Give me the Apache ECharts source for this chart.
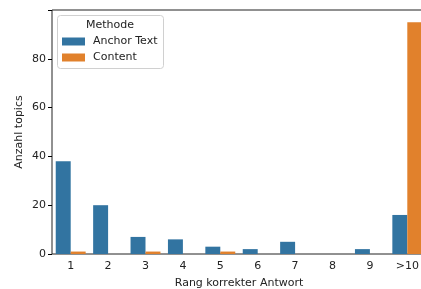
<!DOCTYPE html>
<html>
<head>
<meta charset="utf-8">
<script src="https://cdn.jsdelivr.net/npm/echarts@6/dist/echarts.min.js"></script>
<style>
  html, body { margin: 0; padding: 0; background: #fff; }
  #chart { width: 421px; height: 289px; }
</style>
</head>
<body>
<div id="chart"></div>
<script>
// Rang-Kategorien
var categories = ['1', '2', '3', '4', '5', '6', '7', '8', '9', '>10'];
// Anzahl topics je Methode
var anchorText = [38, 20, 7, 6, 3, 2, 5, 0, 2, 16];
var content = [1, 0, 1, 0, 1, 0, 0, 0, 0, 95];
var yTicks = [0, 20, 40, 60, 80];

var font = 'DejaVu Sans';
var myChart = echarts.init(document.getElementById('chart'));
myChart.setOption({
    animation: false,
    textStyle: { fontFamily: font },
    color: ['#3274A1', '#E1812C'],
    grid: {
        left: 52,
        width: 374,
        top: 10,
        height: 244,
        outerBoundsMode: 'none',
        show: true,
        borderColor: '#222',
        borderWidth: 1,
        backgroundColor: 'transparent'
    },
    graphic: [
        {
            type: 'rect',
            left: 57,
            top: 15,
            shape: { width: 106, height: 53, r: 3 },
            style: { fill: 'rgba(255,255,255,0.8)', stroke: '#d0d0d0', lineWidth: 1 },
            z: 10
        },
        {
            type: 'text',
            left: 86,
            top: 20,
            style: { text: 'Methode', fontFamily: font, fontSize: 11, fill: '#222' },
            z: 11
        }
    ],
    legend: {
        orient: 'vertical',
        left: 57,
        top: 31,
        itemWidth: 23,
        itemHeight: 8,
        itemGap: 5,
        icon: 'rect',
        z: 12,
        textStyle: { fontFamily: font, fontSize: 11, color: '#222', padding: [0, 0, 0, 3] },
        data: ['Anchor Text', 'Content']
    },
    xAxis: {
        type: 'category',
        data: categories,
        name: 'Rang korrekter Antwort',
        nameLocation: 'middle',
        nameGap: 24,
        nameTextStyle: { fontFamily: font, fontSize: 11, color: '#222' },
        axisLine: { show: false },
        axisTick: { alignWithLabel: true, length: 4, lineStyle: { color: '#000' } },
        axisLabel: { fontFamily: font, fontSize: 11, color: '#222', margin: 7 }
    },
    yAxis: {
        type: 'value',
        min: 0,
        max: 100,
        interval: 20,
        name: 'Anzahl topics',
        nameLocation: 'middle',
        nameGap: 27,
        nameMoveOverlap: false,
        nameTextStyle: { fontFamily: font, fontSize: 11, color: '#222' },
        splitLine: { show: false },
        axisLine: { show: false },
        axisTick: { show: true, length: 4, lineStyle: { color: '#000' } },
        axisLabel: {
            fontFamily: font, fontSize: 11, color: '#222', margin: 6,
            formatter: function (v) { return yTicks.indexOf(v) >= 0 ? String(v) : ''; }
        }
    },
    series: [
        {
            name: 'Anchor Text',
            type: 'bar',
            data: anchorText,
            barGap: '0%',
            barCategoryGap: '20%'
        },
        {
            name: 'Content',
            type: 'bar',
            data: content,
            barGap: '0%',
            barCategoryGap: '20%'
        }
    ]
});
</script>
</body>
</html>
